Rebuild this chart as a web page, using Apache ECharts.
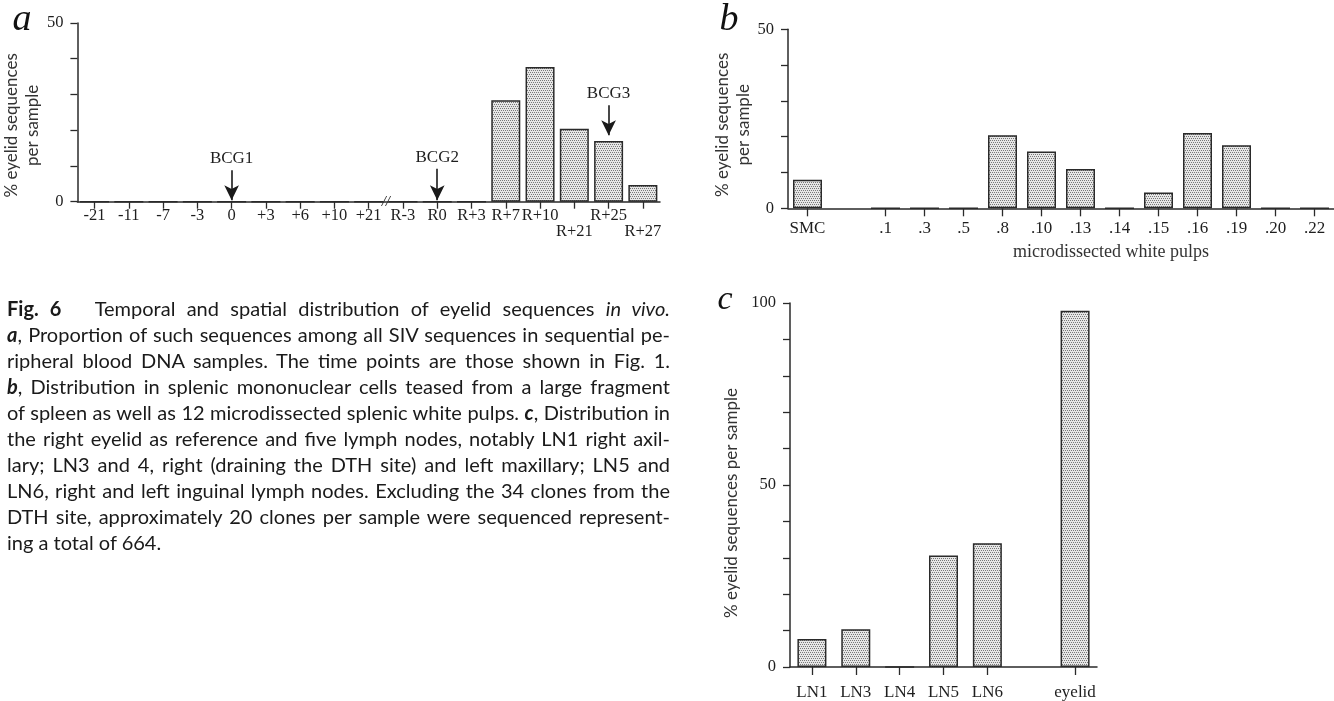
<!DOCTYPE html>
<html>
<head>
<meta charset="utf-8">
<script src="https://cdn.jsdelivr.net/npm/echarts@6/dist/echarts.min.js"></script>
<style>
html,body{margin:0;padding:0;background:#fff;}
#chart{position:absolute;left:0;top:0;width:1334px;height:701px;}
#caption{position:absolute;left:7px;top:295px;width:663px;font-family:Lato,'Open Sans',sans-serif;font-size:20px;line-height:26px;color:#1a1a1a;}
#caption div{white-space:nowrap;text-align:justify;text-align-last:justify;height:26px;}
#caption div.last{text-align-last:left;}
</style>
</head>
<body>
<div id="chart"></div>
<div id="caption">
<div><b>Fig. 6</b>&nbsp;&nbsp; Temporal and spatial distribution of eyelid sequences <i>in vivo.</i></div>
<div><b><i>a</i></b>, Proportion of such sequences among all SIV sequences in sequential pe-</div>
<div>ripheral blood DNA samples. The time points are those shown in Fig. 1.</div>
<div><b><i>b</i></b>, Distribution in splenic mononuclear cells teased from a large fragment</div>
<div>of spleen as well as 12 microdissected splenic white pulps. <b><i>c</i></b>, Distribution in</div>
<div>the right eyelid as reference and five lymph nodes, notably LN1 right axil-</div>
<div>lary; LN3 and 4, right (draining the DTH site) and left maxillary; LN5 and</div>
<div>LN6, right and left inguinal lymph nodes. Excluding the 34 clones from the</div>
<div>DTH site, approximately 20 clones per sample were sequenced represent-</div>
<div class="last">ing a total of 664.</div>
</div>
<script>
// ---- data ----
const timeCats = ['-21','-11','-7','-3','0','+3','+6','+10','+21','R-3','R0','R+3','R+7','R+10','R+21','R+25','R+27'];
const timeVals = [0,0,0,0,0,0,0,0,0,0,0,0,28.4,37.7,20.4,17,4.7];
const timeLowLabels = ['R+21','R+27'];
const bcgNames = ['BCG1','BCG2','BCG3'];
const bcgCats = ['0','R0','R+25'];
const bcgFrom = [8.8,9.2,27];
const bcgTo = [0.4,0.4,18.6];

const pulpCats = ['SMC','','.1','.3','.5','.8','.10','.13','.14','.15','.16','.19','.20','.22'];
const pulpVals = [8.0,null,0,0,0,20.4,15.9,11.0,0,4.4,21.0,17.6,0,0];

const nodeCats = ['LN1','LN3','LN4','LN5','LN6','','eyelid'];
const nodeVals = [7.7,10.4,0,30.6,34.0,null,97.9];

const yLabelsAB = [0,50];
const yLabelsC = [0,50,100];

// ---- caption fit (shrink a line only if it would overflow) ----
(function(){
  const box = document.getElementById('caption');
  const W = 663;
  box.querySelectorAll('div').forEach(d=>{
    const s = document.createElement('span');
    s.innerHTML = d.innerHTML; s.style.whiteSpace='nowrap';
    s.style.position='absolute'; s.style.visibility='hidden';
    box.appendChild(s);
    const w = s.getBoundingClientRect().width;
    box.removeChild(s);
    if (w > W) d.style.fontSize = (20*W/w - 0.05).toFixed(2) + 'px';
  });
})();

// ---- styles ----
const SERIF = "'Liberation Serif','DejaVu Serif',serif";
const SANS = "Lato,'Open Sans',sans-serif";
const INK = '#1e1e1e';
const LINE = '#2a2a2a';

function makePattern(){
  const c = document.createElement('canvas');
  c.width = 4; c.height = 4;
  const g = c.getContext('2d');
  g.fillStyle = '#e6e6e6'; g.fillRect(0,0,4,4);
  g.fillStyle = '#777777';
  [[0,0],[2,0],[1,2],[3,2]].forEach(p=>g.fillRect(p[0],p[1],1,1));
  return c;
}
const pattern = {image: makePattern(), repeat: 'repeat'};

const barStyle = {color: pattern, borderColor: LINE, borderWidth: 1.5};
const axisLine = {show:true, lineStyle:{color:LINE, width:1.5}};

function yAxis(gi, max, labels, name, gap, pad){
  return {
    type:'value', gridIndex:gi, min:0, max:max, interval:10,
    axisLine: axisLine,
    axisTick: {show:true, inside:false, length:7, lineStyle:{color:LINE, width:1.3}},
    splitLine: {show:false},
    axisLabel: {fontFamily:SERIF, fontSize:16.5, color:INK, margin:14,
      formatter: v => labels.indexOf(v) >= 0 ? String(v) : ''},
    name: name, nameLocation:'middle', nameRotate:90, nameGap:gap,
    nameTextStyle: {fontFamily:SANS, fontSize:17, color:'#333', lineHeight:21, padding:pad}
  };
}

const option = {
  backgroundColor:'#fff',
  animation:false,
  grid: [
    {left:73, top:23, width:587, height:178.7},
    {left:788, top:29.3, width:547, height:179},
    {left:790, top:303, width:307, height:364}
  ],
  xAxis: [
    {type:'category', gridIndex:0, data:timeCats,
     axisLine: axisLine,
     axisTick: {show:true, alignWithLabel:true, length:7, lineStyle:{color:LINE, width:1.3}},
     axisLabel: {interval:0, fontFamily:SERIF, fontSize:16.5, color:INK, margin:6, lineHeight:16,
       formatter: v => timeLowLabels.indexOf(v) >= 0 ? '\n' + v : v}},
    {type:'category', gridIndex:1, data:pulpCats,
     axisLine: axisLine,
     axisTick: {show:true, alignWithLabel:true, length:8, interval:(i,v)=>v!=='', lineStyle:{color:LINE, width:1.3}},
     axisLabel: {interval:0, fontFamily:SERIF, fontSize:17, color:INK, margin:12},
     name:'microdissected white pulps', nameLocation:'middle', nameGap:35,
     nameTextStyle:{fontFamily:SERIF, fontSize:18, color:'#333', padding:[0,0,0,100]}},
    {type:'category', gridIndex:2, data:nodeCats,
     axisLine: axisLine,
     axisTick: {show:true, alignWithLabel:true, length:8, interval:(i,v)=>v!=='', lineStyle:{color:LINE, width:1.3}},
     axisLabel: {interval:0, fontFamily:SERIF, fontSize:17, color:INK, margin:17}}
  ],
  yAxis: [
    yAxis(0, 50, yLabelsAB, '% eyelid sequences\nper sample', 19, [0,26,0,0]),
    yAxis(1, 50, yLabelsAB, '% eyelid sequences\nper sample', 33, [0,12,0,0]),
    yAxis(2, 100, yLabelsC, '% eyelid sequences per sample', 48, [0,36,0,0])
  ],
  series: [
    {type:'bar', xAxisIndex:0, yAxisIndex:0, data:timeVals, barWidth:29, itemStyle:barStyle, silent:true,
     markLine: {
       silent:true, symbol:['none','arrow'], symbolSize:[11,15],
       lineStyle:{color:'#1a1a1a', width:1.6, type:'solid'},
       label:{show:true, position:'start', formatter:'{b}', fontFamily:SERIF, fontSize:17, color:INK, distance:3},
       data: bcgNames.map((n,i)=>[
         {name:n, coord:[timeCats.indexOf(bcgCats[i]), bcgFrom[i]]},
         {coord:[timeCats.indexOf(bcgCats[i]), bcgTo[i]]}
       ])
     }},
    {type:'bar', xAxisIndex:1, yAxisIndex:1, data:pulpVals, barWidth:29, itemStyle:barStyle, silent:true},
    {type:'bar', xAxisIndex:2, yAxisIndex:2, data:nodeVals, barWidth:29, itemStyle:barStyle, silent:true}
  ],
  graphic: [
    {type:'text', x:22, y:20, style:{text:'a', font:"italic 38px 'Liberation Serif', serif", fill:'#111', textAlign:'center', textVerticalAlign:'middle'}},
    {type:'text', x:729, y:20, style:{text:'b', font:"italic 38px 'Liberation Serif', serif", fill:'#111', textAlign:'center', textVerticalAlign:'middle'}},
    {type:'text', x:725, y:300, style:{text:'c', font:"italic 34px 'Liberation Serif', serif", fill:'#111', textAlign:'center', textVerticalAlign:'middle'}}
  ]
};

const chart = echarts.init(document.getElementById('chart'), null, {renderer:'canvas'});
chart.setOption(option);

// axis break mark between '+21' and 'R-3'
const p1 = chart.convertToPixel({xAxisIndex:0}, timeCats.indexOf('+21'));
const p2 = chart.convertToPixel({xAxisIndex:0}, timeCats.indexOf('R-3'));
const py = chart.convertToPixel({yAxisIndex:0}, 0);
chart.setOption({graphic: option.graphic.concat([
  {type:'text', x:(p1+p2)/2, y:py, style:{text:'//', font:"italic 15px 'Liberation Serif', serif", fill:'#222', textAlign:'center', textVerticalAlign:'middle'}}
])});
</script>
</body>
</html>
